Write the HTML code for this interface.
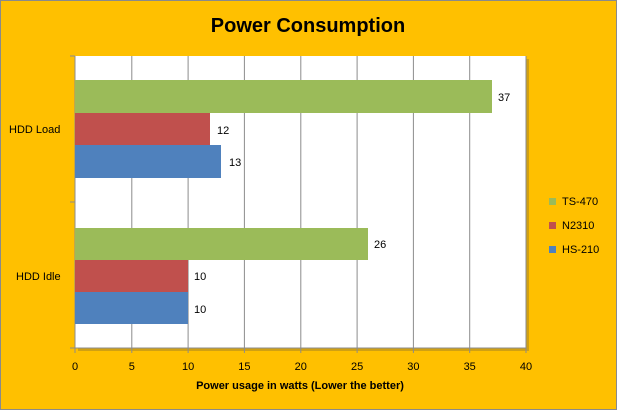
<!DOCTYPE html>
<html><head><style>
body{margin:0;}
svg text{font-family:"Liberation Sans",sans-serif;}
</style></head><body>
<svg width="617" height="410" xmlns="http://www.w3.org/2000/svg">
<rect x="0.5" y="0.5" width="616" height="409" fill="#FFC000" stroke="#8a8a8a"/>
<text x="308" y="32" text-anchor="middle" font-size="20" font-weight="bold" fill="#000">Power Consumption</text>
<rect x="78" y="59" width="451" height="292" fill="#b08a20" opacity="0.6"/>
<rect x="75" y="56" width="451" height="292" fill="#fff"/>
<g stroke="#8c8c8c" stroke-width="1">
<line x1="131.8" y1="56" x2="131.8" y2="353"/>
<line x1="188.1" y1="56" x2="188.1" y2="353"/>
<line x1="244.4" y1="56" x2="244.4" y2="353"/>
<line x1="300.8" y1="56" x2="300.8" y2="353"/>
<line x1="357.1" y1="56" x2="357.1" y2="353"/>
<line x1="413.4" y1="56" x2="413.4" y2="353"/>
<line x1="469.7" y1="56" x2="469.7" y2="353"/>
<line x1="526" y1="56" x2="526" y2="353"/>
<line x1="75" y1="56" x2="75" y2="353"/>
<line x1="70" y1="56" x2="75" y2="56"/>
<line x1="70" y1="202" x2="75" y2="202"/>
<line x1="70" y1="348" x2="75" y2="348"/>
<line x1="75" y1="348" x2="526" y2="348"/>
</g>
<rect x="75" y="80" width="417" height="33" fill="#9BBB59"/>
<rect x="75" y="113" width="135" height="32" fill="#C0504D"/>
<rect x="75" y="145" width="146" height="33" fill="#4F81BD"/>
<rect x="75" y="228" width="293" height="32" fill="#9BBB59"/>
<rect x="75" y="260" width="113" height="32" fill="#C0504D"/>
<rect x="75" y="292" width="113" height="32" fill="#4F81BD"/>
<g font-size="11" fill="#000">
<text x="498" y="101">37</text>
<text x="217" y="134">12</text>
<text x="229" y="166">13</text>
<text x="374" y="248">26</text>
<text x="194" y="280">10</text>
<text x="194" y="313">10</text>
<text x="9" y="133">HDD Load</text>
<text x="16" y="280">HDD Idle</text>
</g>
<g font-size="11" fill="#000" text-anchor="middle">
<text x="75" y="370">0</text><text x="131.8" y="370">5</text><text x="188.1" y="370">10</text><text x="244.4" y="370">15</text><text x="300.8" y="370">20</text><text x="357.1" y="370">25</text><text x="413.4" y="370">30</text><text x="469.7" y="370">35</text><text x="526" y="370">40</text>
<text x="300" y="389" font-weight="bold">Power usage in watts (Lower the better)</text>
</g>
<rect x="549" y="198" width="7" height="7" fill="#9BBB59"/>
<rect x="549" y="222" width="7" height="7" fill="#C0504D"/>
<rect x="549" y="246" width="7" height="7" fill="#4F81BD"/>
<g font-size="11" fill="#000">
<text x="562" y="205">TS-470</text>
<text x="562" y="229">N2310</text>
<text x="562" y="253">HS-210</text>
</g>
</svg>
</body></html>
